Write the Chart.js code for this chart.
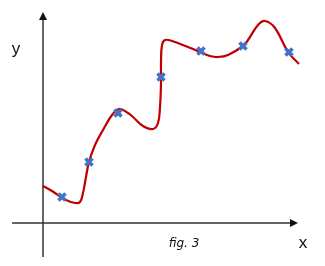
<!DOCTYPE html>
<html><head><meta charset="utf-8">
<script src="https://cdn.jsdelivr.net/npm/chart.js@4"></script>
<style>html,body{margin:0;padding:0;background:#fff}#wrap{position:relative;width:325px;height:266px}</style>
</head><body><div id="wrap"><canvas id="c"></canvas></div>
<script>
// measured points (blue crosses)
const pointX = [1.9, 4.6, 7.5, 11.8, 15.8, 20.0, 24.6];
const pointY = [2.6, 6.1, 11.0, 14.6, 17.2, 17.7, 17.1];
// fitted curve
const curveX = [0, 0.9, 1.5, 2.3, 3.2, 3.7, 4.0, 4.3, 4.6, 5.2, 6.0, 6.9, 7.6, 8.5, 9.0, 10.0, 11.0, 11.5, 11.7, 11.8, 11.8, 11.9, 12.2, 12.9, 14.5, 15.7, 16.7, 17.5, 18.5, 20.0, 20.5, 21.5, 22.2, 23.2, 24.5, 25.6];
const curveY = [3.7, 3.2, 2.8, 2.3, 2.0, 2.1, 3.0, 4.6, 6.1, 7.8, 9.3, 10.8, 11.4, 11.0, 10.6, 9.7, 9.4, 10.0, 11.6, 14.0, 16.0, 17.8, 18.3, 18.2, 17.6, 17.1, 16.7, 16.6, 16.8, 17.7, 18.3, 19.8, 20.2, 19.5, 17.1, 15.9];
const axisLabels = {x: 'x', y: 'y', caption: 'fig. 3'};
const xAxisRange = [-3.1, 25.5];
const yAxisRange = [-3.4, 21.1];

const axesPlugin = {
  id: 'axesArrows',
  beforeDatasetsDraw(chart) {
    const {ctx, scales: {x, y}} = chart;
    const x0 = x.getPixelForValue(0), y0 = y.getPixelForValue(0);
    const xl = x.getPixelForValue(xAxisRange[0]), xr = x.getPixelForValue(xAxisRange[1]);
    const yb = y.getPixelForValue(yAxisRange[0]), yt = y.getPixelForValue(yAxisRange[1]);
    ctx.save();
    ctx.strokeStyle = '#333'; ctx.fillStyle = '#111'; ctx.lineWidth = 1.5;
    ctx.beginPath(); ctx.moveTo(xl, y0); ctx.lineTo(xr - 6, y0); ctx.stroke();
    ctx.beginPath(); ctx.moveTo(x0, yb); ctx.lineTo(x0, yt + 6); ctx.stroke();
    ctx.beginPath(); ctx.moveTo(xr, y0); ctx.lineTo(xr - 8, y0 - 4); ctx.lineTo(xr - 8, y0 + 4); ctx.closePath(); ctx.fill();
    ctx.beginPath(); ctx.moveTo(x0, yt); ctx.lineTo(x0 - 4, yt + 8); ctx.lineTo(x0 + 4, yt + 8); ctx.closePath(); ctx.fill();
    ctx.fillStyle = '#111';
    ctx.textAlign = 'center'; ctx.textBaseline = 'middle';
    ctx.font = '17px "Liberation Sans", sans-serif';
    ctx.fillText(axisLabels.y, x0 - 27, yt + 37);
    ctx.fillText(axisLabels.x, xr + 5, y0 + 20);
    ctx.font = 'italic 12px "DejaVu Sans", sans-serif';
    ctx.fillStyle = '#111';
    ctx.fillText(axisLabels.caption, x.getPixelForValue(14.1), y0 + 21);
    ctx.restore();
  }
};

new Chart(document.getElementById('c'), {
  type: 'scatter',
  data: {
    datasets: [
      {
        label: 'points',
        data: pointX.map((v, i) => ({x: v, y: pointY[i]})),
        pointStyle: 'crossRot', pointRadius: 5, pointBorderWidth: 3.6,
        borderColor: '#4472C4', backgroundColor: '#4472C4', showLine: false, clip: false
      },
      {
        label: 'curve',
        data: curveX.map((v, i) => ({x: v, y: curveY[i]})),
        showLine: true, borderColor: '#C00000', borderWidth: 2.2, pointRadius: 0,
        tension: 0.4, fill: false, clip: false
      }
    ]
  },
  options: {
    responsive: true, maintainAspectRatio: false, animation: false,
    layout: {padding: 0, autoPadding: false},
    plugins: {legend: {display: false}, tooltip: {enabled: false}},
    scales: {
      x: {type: 'linear', display: false, min: -4.3, max: 28.2},
      y: {type: 'linear', display: false, min: -4.3, max: 22.3}
    }
  },
  plugins: [axesPlugin]
});
</script></body></html>
